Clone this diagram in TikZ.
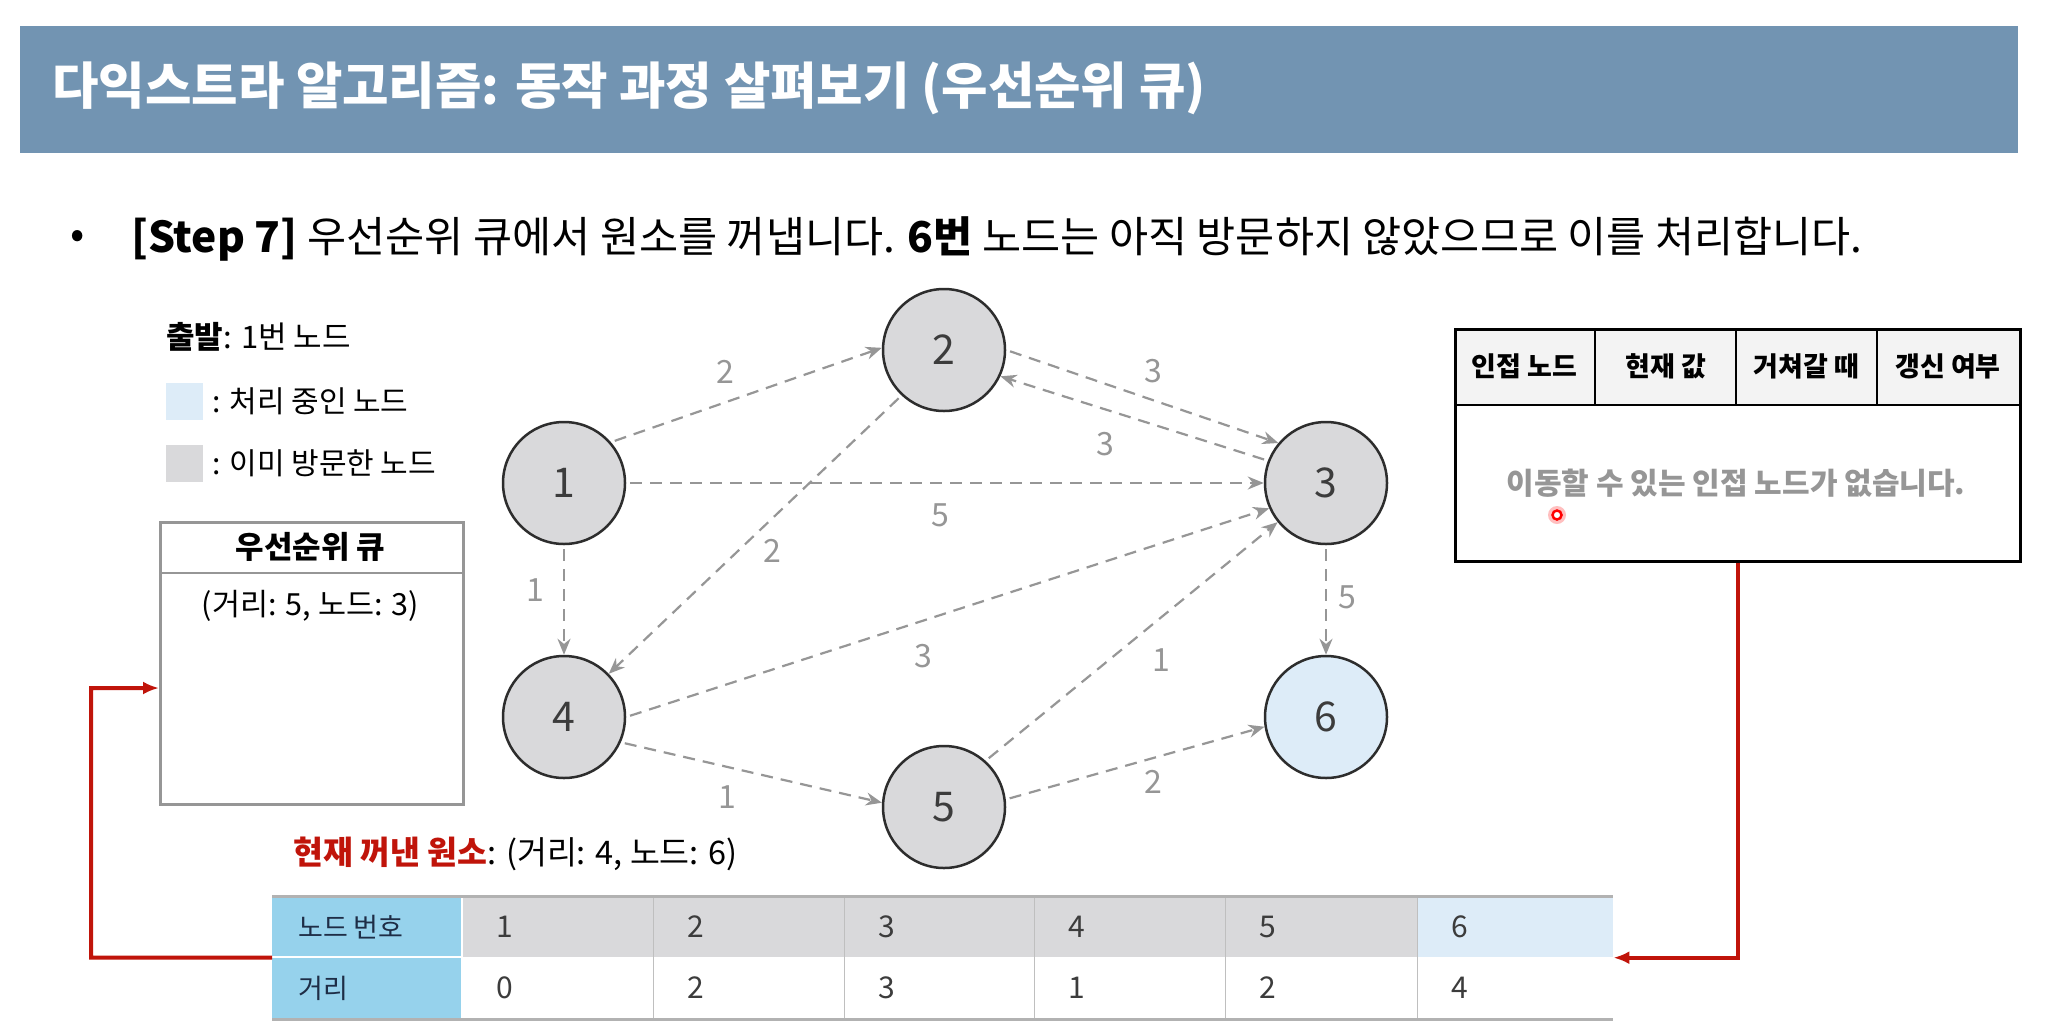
\documentclass[tikz,border=0pt]{standalone}
\usepackage{fontspec}
\setmainfont{Noto Sans CJK KR}
\usetikzlibrary{arrows.meta}
\definecolor{band}{RGB}{114,148,178}
\definecolor{ngray}{RGB}{217,217,219}
\definecolor{lblue}{RGB}{221,236,248}
\definecolor{sky}{RGB}{150,210,236}
\definecolor{ndraw}{RGB}{45,45,45}
\definecolor{ntext}{RGB}{60,60,60}
\definecolor{egray}{RGB}{150,150,150}
\definecolor{redc}{RGB}{192,20,10}
\definecolor{navy}{RGB}{30,45,70}
\definecolor{hdrgray}{RGB}{243,243,243}
\newcommand{\myfs}[1]{\fontsize{#1}{#1}\selectfont}
\tikzset{
  gnode/.style={circle, draw=ndraw, line width=2.5pt, fill=ngray, minimum size=122pt, inner sep=0pt, font=\myfs{41}, text=ntext},
  edge/.style={draw=egray, line width=2.2pt, dash pattern=on 12pt off 8pt, shorten <=4pt, -{Stealth[length=16pt,width=13pt]}},
  elabel/.style={font=\myfs{32}, text=egray},
  redline/.style={draw=redc, line width=4pt, -{Latex[length=16pt,width=13pt]}},
  txt/.style={anchor=west, inner sep=0pt},
  cellnum/.style={anchor=west, inner sep=0pt, font=\myfs{30}, text=ntext},
}
\begin{document}
\begin{tikzpicture}[x=1pt,y=-1pt]
\useasboundingbox (0,0) rectangle (2048,1034);
\fill[white] (0,0) rectangle (2048,1034);
% header band
\fill[band] (20,26) rectangle (2018,153);
\node[txt, font=\myfs{50.5}\bfseries, text=white] (title) at (52,88) {다익스트라 알고리즘: 동작 과정 살펴보기 (우선순위 큐)};
% bullet line
\node[font=\myfs{42}] (bul) at (78,239) {•};
\node[txt, font=\myfs{42.5}] (step) at (131,239) {\textbf{[Step 7]} 우선순위 큐에서 원소를 꺼냅니다. \textbf{6번} 노드는 아직 방문하지 않았으므로 이를 처리합니다.};
% legend
\node[txt, font=\myfs{31}] (start) at (166,337) {\textbf{출발}: 1번 노드};
\node[fill=lblue, minimum size=37pt, inner sep=0pt, anchor=north west] (sq1) at (166,383) {};
\node[txt, font=\myfs{30}] (lg1) at (212,401) {: 처리 중인 노드};
\node[fill=ngray, minimum size=37pt, inner sep=0pt, anchor=north west] (sq2) at (166,445) {};
\node[txt, font=\myfs{30}] (lg2) at (212,463) {: 이미 방문한 노드};
% priority queue box
\node[draw=egray, line width=2.8pt, minimum width=303pt, minimum height=282pt, inner sep=0pt, anchor=north west] (queue) at (159,521) {};
\draw[draw=egray, line width=2.8pt] (159,573) -- (462,573);
\node[font=\myfs{31}\bfseries] (qt) at (310.5,547) {우선순위 큐};
\node[font=\myfs{30.5}] (qv) at (310.5,606) {(거리: 5, 노드: 3)};
% graph nodes
\node[gnode] (n1) at (564,483) {1};
\node[gnode] (n2) at (944,350) {2};
\node[gnode] (n3) at (1326,483) {3};
\node[gnode] (n4) at (564,717) {4};
\node[gnode] (n5) at (944,807) {5};
\node[gnode, fill=lblue] (n6) at (1326,717) {6};
% edges
\draw[edge] (n1.41) -- (n2.178);
\draw[edge] (n2.0) -- (n3.140);
\draw[edge] (n3.159) -- (n2.-25);
\draw[edge] (n1.0) -- (n3.180);
\draw[edge] (n1.-90) -- (n4.90);
\draw[edge] (n2.-133) -- (n4.44);
\draw[edge] (n4.0) -- (n3.-156);
\draw[edge] (n4.-24) -- (n5.176);
\draw[edge] (n5.48) -- (n3.-141);
\draw[edge] (n5.7) -- (n6.-171);
\draw[edge] (n3.-90) -- (n6.90);
% edge labels
\node[elabel] (l12) at (725,372) {2};
\node[elabel] (l23) at (1153,371) {3};
\node[elabel] (l32) at (1105,444) {3};
\node[elabel] (l13) at (940,515) {5};
\node[elabel] (l24) at (772,551) {2};
\node[elabel] (l14) at (535,590) {1};
\node[elabel] (l43) at (923,656) {3};
\node[elabel] (l53) at (1161,660) {1};
\node[elabel] (l36) at (1347,597) {5};
\node[elabel] (l45) at (727,797) {1};
\node[elabel] (l56) at (1153,782) {2};
% adjacency table
\fill[hdrgray] (1454,328) rectangle (2019,405);
\node[draw=black, line width=2.5pt, minimum width=565pt, minimum height=232pt, inner sep=0pt, anchor=north west] (adj) at (1454,328) {};
\draw[line width=2.5pt] (1454,405) -- (2019,405);
\draw[line width=2.5pt] (1595,328) -- (1595,405);
\draw[line width=2.5pt] (1736,328) -- (1736,405);
\draw[line width=2.5pt] (1877,328) -- (1877,405);
\node[font=\myfs{27}\bfseries] (h1) at (1524.5,366) {인접 노드};
\node[font=\myfs{27}\bfseries] (h2) at (1665.5,366) {현재 값};
\node[font=\myfs{27}\bfseries] (h3) at (1806.5,366) {거쳐갈 때};
\node[font=\myfs{27}\bfseries] (h4) at (1948,366) {갱신 여부};
\node[font=\myfs{30}\bfseries, text=egray] (none) at (1736,483) {이동할 수 있는 인접 노드가 없습니다.};
\fill[red!25] (1557,515) circle (9pt);
\draw[draw=red, fill=white, line width=2.5pt] (1557,515) circle (4.5pt);
% current popped element
\node[txt, font=\myfs{32.5}] (cur) at (293,854) {\textcolor{redc}{\textbf{현재 꺼낸 원소}}: (거리: 4, 노드: 6)};
% distance table
\fill[sky] (272,896) rectangle (462,1019);
\fill[ngray] (462,896) rectangle (1417,957);
\fill[lblue] (1417,896) rectangle (1613,957);
\node[minimum width=1341pt, minimum height=123pt, inner sep=0pt, anchor=north west] (dist) at (272,896) {};
\draw[white, line width=2.5pt] (272,957) -- (462,957);
\draw[white, line width=2.5pt] (462,896) -- (462,1019);
\foreach \xx in {653,844,1034,1225,1417} {
  \draw[draw=black!25, line width=1pt] (\xx,896) -- (\xx,1019);
}
\draw[draw=black!30, line width=3pt] (272,896) -- (1613,896);
\draw[draw=black!30, line width=3pt] (272,1019) -- (1613,1019);
\node[cellnum, font=\myfs{27}, text=navy] (rh1) at (298,927) {노드 번호};
\node[cellnum, font=\myfs{27}, text=navy] (rh2) at (298,988) {거리};
\node[cellnum] (a1) at (496,927) {1};
\node[cellnum] (a2) at (687,927) {2};
\node[cellnum] (a3) at (878,927) {3};
\node[cellnum] (a4) at (1068,927) {4};
\node[cellnum] (a5) at (1259,927) {5};
\node[cellnum] (a6) at (1451,927) {6};
\node[cellnum] (b1) at (496,988) {0};
\node[cellnum] (b2) at (687,988) {2};
\node[cellnum] (b3) at (878,988) {3};
\node[cellnum] (b4) at (1068,988) {1};
\node[cellnum] (b5) at (1259,988) {2};
\node[cellnum] (b6) at (1451,988) {4};
% red connectors
\coordinate (qin) at (159,688);
\coordinate (lc) at (91,957.5);
\draw[redline] (adj.south) |- (dist.east);
\draw[redline] (dist.west) -- (lc) |- (qin);
\end{tikzpicture}
\end{document}
